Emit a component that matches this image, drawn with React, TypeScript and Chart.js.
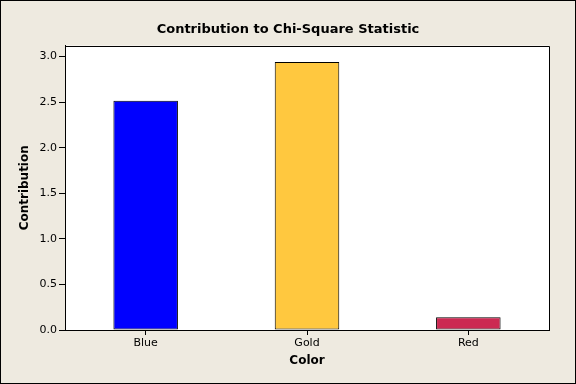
import React, { useEffect, useRef } from "react";
import { Chart, registerables } from "chart.js";

Chart.register(...registerables);

const categories = ["Blue", "Gold", "Red"];
const contributions = [2.515, 2.94, 0.14];
const barColors = ["#0000FF", "#FFC83F", "#CC2952"];
const yTickValues = [0, 0.5, 1.0, 1.5, 2.0, 2.5, 3.0];

const BG = "#EEEAE0";
const FONT = "'DejaVu Sans', Tahoma, sans-serif";

const framePlugin = {
  id: "frame",
  beforeDraw(chart: any) {
    const { ctx, width, height, chartArea } = chart;
    ctx.save();
    ctx.fillStyle = BG;
    ctx.fillRect(0, 0, width, height);
    ctx.strokeStyle = "#000";
    ctx.lineWidth = 1;
    ctx.strokeRect(0.5, 0.5, width - 1, height - 1);
    ctx.fillStyle = "#FFFFFF";
    ctx.fillRect(chartArea.left, chartArea.top, chartArea.right - chartArea.left, chartArea.bottom - chartArea.top);
    ctx.restore();
  },
  afterDraw(chart: any) {
    const { ctx, chartArea } = chart;
    ctx.save();
    ctx.strokeStyle = "#000";
    ctx.lineWidth = 1;
    ctx.beginPath();
    ctx.moveTo(chartArea.left, Math.round(chartArea.top) + 0.5);
    ctx.lineTo(Math.round(chartArea.right) + 0.5, Math.round(chartArea.top) + 0.5);
    ctx.lineTo(Math.round(chartArea.right) + 0.5, chartArea.bottom);
    ctx.stroke();
    ctx.restore();
  },
};

export default function App() {
  const ref = useRef<HTMLCanvasElement | null>(null);
  useEffect(() => {
    document.body.style.margin = "0";
    const canvas = ref.current!;
    const chart = new Chart(canvas, {
      type: "bar",
      data: {
        labels: categories,
        datasets: [
          {
            data: contributions,
            backgroundColor: barColors,
            borderColor: "#000",
            borderWidth: 1,
            borderSkipped: false,
            barPercentage: 0.4,
            categoryPercentage: 1,
          },
        ],
      },
      options: {
        animation: false,
        responsive: false,
        devicePixelRatio: 1,
        layout: { padding: 0 },
        plugins: {
          legend: { display: false },
          tooltip: { enabled: false },
          title: {
            display: true,
            text: "Contribution to Chi-Square Statistic",
            color: "#000",
            font: { family: FONT, size: 13, weight: "bold" },
            padding: { top: 22, bottom: 8 },
          },
        },
        scales: {
          x: {
            grid: { drawOnChartArea: false, drawTicks: true, tickLength: 5, color: "#000", offset: false },
            border: { display: true, color: "#000", width: 1 },
            ticks: { color: "#000", font: { family: FONT, size: 11 }, padding: 2, maxRotation: 0 },
            title: {
              display: true,
              text: "Color",
              color: "#000",
              font: { family: FONT, size: 12, weight: "bold" },
              padding: { top: 16, bottom: 16 },
            },
            afterFit(s: any) {
              s.height = 54;
            },
          },
          y: {
            min: 0,
            max: 3.12,
            afterBuildTicks(s: any) {
              s.ticks = yTickValues.map((v) => ({ value: v }));
            },
            grid: { drawOnChartArea: false, drawTicks: true, tickLength: 6, color: "#000" },
            border: { display: true, color: "#000", width: 1 },
            ticks: {
              color: "#000",
              font: { family: FONT, size: 11 },
              padding: 2,
              callback: (v: any) => Number(v).toFixed(1),
            },
            title: {
              display: true,
              text: "Contribution",
              color: "#000",
              font: { family: FONT, size: 12, weight: "bold" },
              padding: { top: 18, bottom: 18 },
            },
            afterFit(s: any) {
              s.width = 65;
            },
          },
          yRight: {
            position: "right",
            display: true,
            min: 0,
            max: 3.12,
            grid: { display: false, drawTicks: false },
            border: { display: false },
            ticks: { display: false },
            afterFit(s: any) {
              s.width = 27;
            },
          },
        },
      },
      plugins: [framePlugin],
    });
    return () => chart.destroy();
  }, []);
  return <canvas ref={ref} width={576} height={384} style={{ display: "block" }} />;
}
